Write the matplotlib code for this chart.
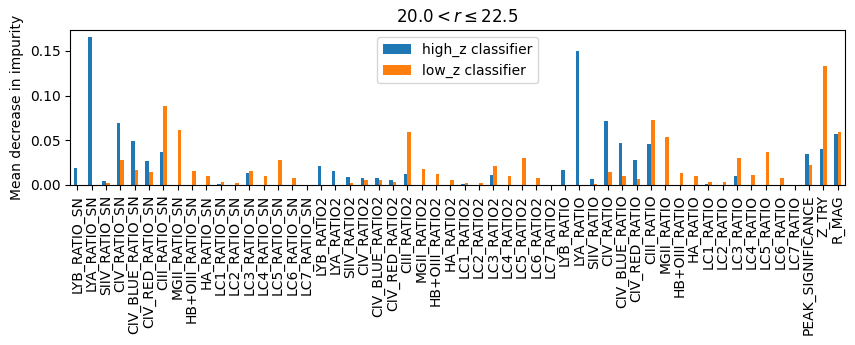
import numpy as np
import matplotlib
matplotlib.use('Agg')
import matplotlib.pyplot as plt

lines = ['LYB', 'LYA', 'SIIV', 'CIV', 'CIV_BLUE', 'CIV_RED', 'CIII', 'MGII',
         'HB+OIII', 'HA', 'LC1', 'LC2', 'LC3', 'LC4', 'LC5', 'LC6', 'LC7']
features = ([l + '_RATIO_SN' for l in lines] +
            [l + '_RATIO2' for l in lines] +
            [l + '_RATIO' for l in lines] +
            ['PEAK_SIGNIFICANCE', 'Z_TRY', 'R_MAG'])

high_z = [0.0192, 0.165, 0.0045, 0.069, 0.0486, 0.027, 0.0373, 0.0, 0.0, 0.0,
          0.0011, 0.0, 0.0135, 0.0, 0.0, 0.0, 0.0,
          0.0215, 0.0158, 0.009, 0.0079, 0.0079, 0.0056, 0.0124, 0.0, 0.0, 0.0,
          0.0011, 0.0, 0.0113, 0.0, 0.0, 0.0, 0.0,
          0.017, 0.150, 0.0068, 0.071, 0.0474, 0.028, 0.0463, 0.0, 0.0, 0.0,
          0.0011, 0.0, 0.0102, 0.0, 0.0, 0.0, 0.0,
          0.035, 0.0406, 0.0564]
low_z = [0.0, 0.0, 0.0023, 0.028, 0.017, 0.0147, 0.088, 0.061, 0.0158, 0.0102,
         0.0034, 0.0023, 0.0158, 0.0102, 0.028, 0.0079, 0.0,
         0.0, 0.0, 0.0023, 0.0056, 0.0056, 0.0034, 0.0587, 0.018, 0.0124, 0.0056,
         0.0023, 0.0023, 0.0215, 0.0102, 0.0305, 0.0079, 0.0,
         0.0, 0.0, 0.0011, 0.0147, 0.0102, 0.0068, 0.0723, 0.054, 0.0135, 0.0102,
         0.0034, 0.0034, 0.0305, 0.0113, 0.0373, 0.0079, 0.0,
         0.0226, 0.133, 0.0587]

x = np.arange(len(features))
w = 0.25

fig = plt.figure(figsize=(8.55, 3.45), dpi=100)
ax = fig.add_axes([0.082, 0.464, 0.906, 0.449])
ax.bar(x - w/2, high_z, w, color='#1f77b4', label='high_z classifier')
ax.bar(x + w/2, low_z, w, color='#ff7f0e', label='low_z classifier')
ax.set_xticks(x)
ax.set_xticklabels(features, rotation=90)
ax.set_xlim(-0.5, len(features) - 0.5)
ax.set_ylabel('Mean decrease in impurity')
ax.set_title(r'$20.0 < r \leq 22.5$')
ax.legend(loc='upper center')

plt.savefig('out.png')
